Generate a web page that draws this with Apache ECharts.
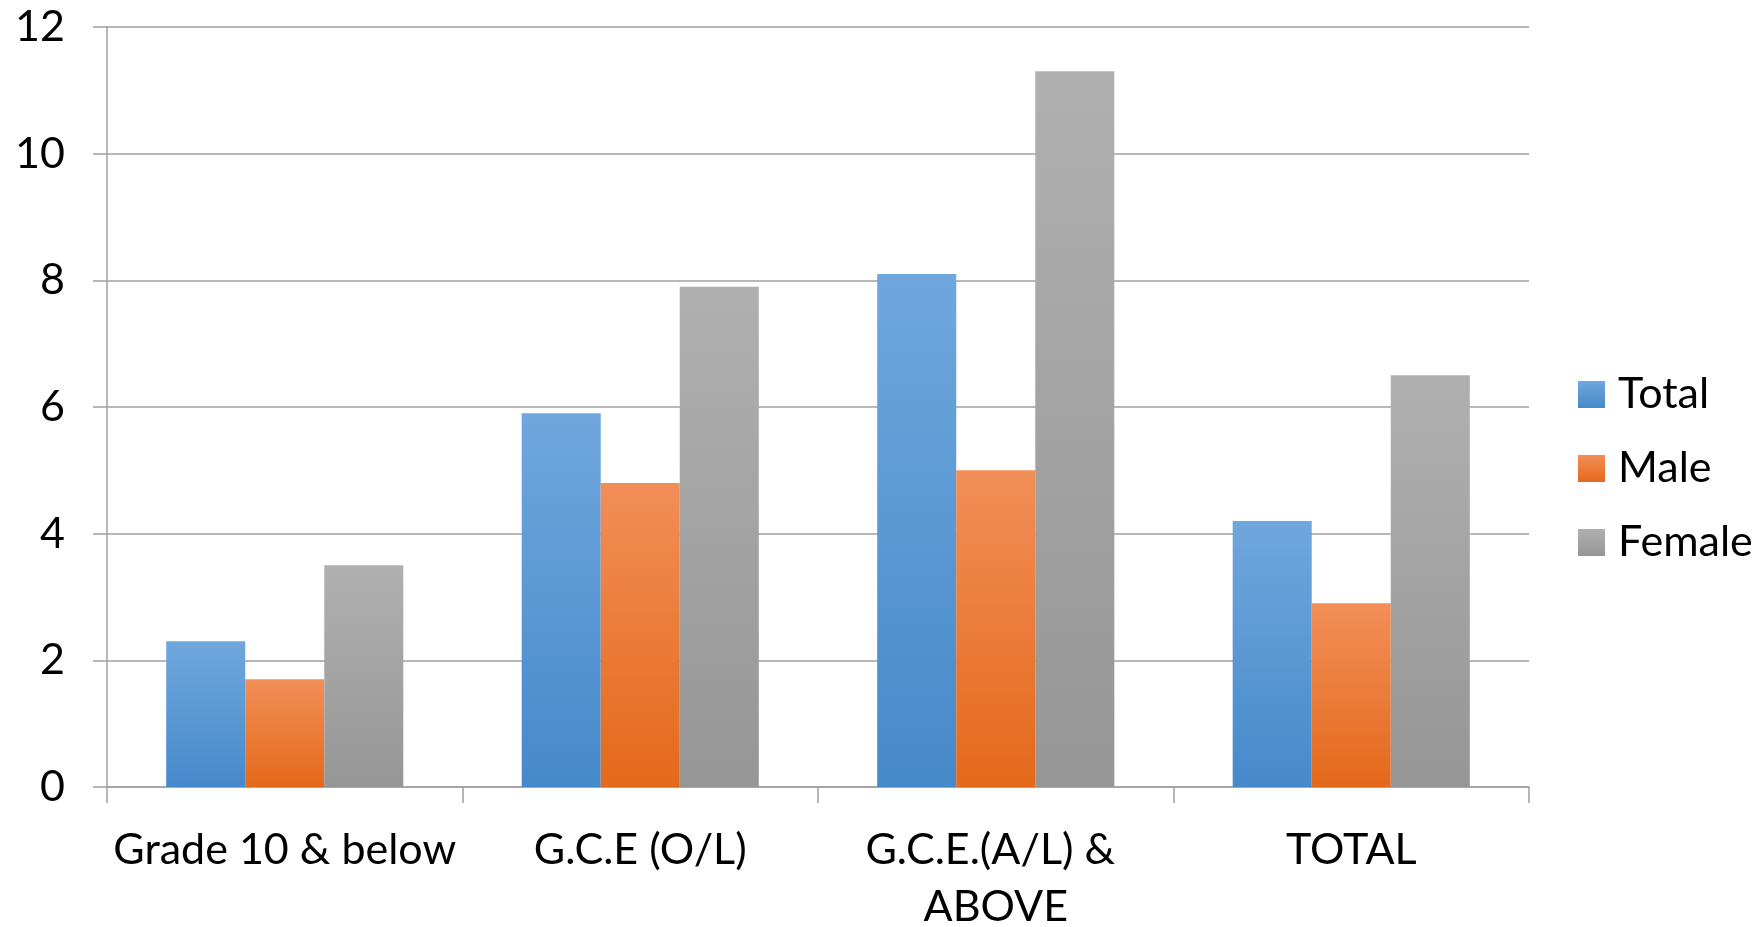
<!DOCTYPE html>
<html>
<head>
<meta charset="utf-8">
<script src="https://cdn.jsdelivr.net/npm/echarts@6/dist/echarts.min.js"></script>
<style>html,body{margin:0;padding:0;background:#fff;}#c{width:1764px;height:927px;}</style>
</head>
<body>
<div id="c"></div>
<script>
const categories = ['Grade 10 & below', 'G.C.E (O/L)', 'G.C.E.(A/L) & ABOVE', 'TOTAL'];
const totalValues = [2.3, 5.9, 8.1, 4.2];
const maleValues = [1.7, 4.8, 5.0, 2.9];
const femaleValues = [3.5, 7.9, 11.3, 6.5];
const seriesNames = ['Total', 'Male', 'Female'];
const yTicks = { min: 0, max: 12, interval: 2 };

const FONT = 'Lato';
function grad(top, bottom) {
  return new echarts.graphic.LinearGradient(0, 0, 0, 1, [
    { offset: 0, color: top }, { offset: 1, color: bottom }
  ]);
}
const colors = [
  grad('#70a7dd', '#4689cb'),
  grad('#f28e58', '#e4691a'),
  grad('#b0b0b0', '#969696')
];
const chart = echarts.init(document.getElementById('c'), null, { renderer: 'canvas' });
chart.setOption({
  animation: false,
  backgroundColor: '#fff',
  grid: { left: 107, right: 235, top: 27, bottom: 140, containLabel: false, outerBoundsMode: 'none' },
  legend: {
    orient: 'vertical',
    left: 1573,
    top: 368,
    itemWidth: 27,
    itemHeight: 27,
    itemGap: 31,
    icon: 'rect',
    data: seriesNames,
    textStyle: { fontFamily: FONT, fontSize: 43, color: '#000', padding: [0, 0, 0, 8] }
  },
  xAxis: {
    type: 'category',
    data: categories,
    axisLine: { lineStyle: { color: '#a0a0a0', width: 1.5 } },
    axisTick: { show: true, length: 16, lineStyle: { color: '#a0a0a0', width: 1.5 } },
    axisLabel: {
      fontFamily: FONT, fontSize: 43, color: '#000', margin: 35,
      lineHeight: 57, width: 345, overflow: 'break', interval: 0
    }
  },
  yAxis: {
    type: 'value',
    min: yTicks.min, max: yTicks.max, interval: yTicks.interval,
    axisLine: { show: true, lineStyle: { color: '#a0a0a0', width: 1.5 } },
    axisTick: { show: true, length: 14, lineStyle: { color: '#a0a0a0', width: 1.5 } },
    splitLine: { lineStyle: { color: '#a0a0a0', width: 1.5 } },
    axisLabel: { fontFamily: FONT, fontSize: 43, color: '#000', margin: 42 }
  },
  series: [
    { name: seriesNames[0], type: 'bar', data: totalValues, barGap: '0%', barCategoryGap: '33.3%', itemStyle: { color: colors[0] } },
    { name: seriesNames[1], type: 'bar', data: maleValues, barGap: '0%', barCategoryGap: '33.3%', itemStyle: { color: colors[1] } },
    { name: seriesNames[2], type: 'bar', data: femaleValues, barGap: '0%', barCategoryGap: '33.3%', itemStyle: { color: colors[2] } }
  ]
});
</script>
</body>
</html>
